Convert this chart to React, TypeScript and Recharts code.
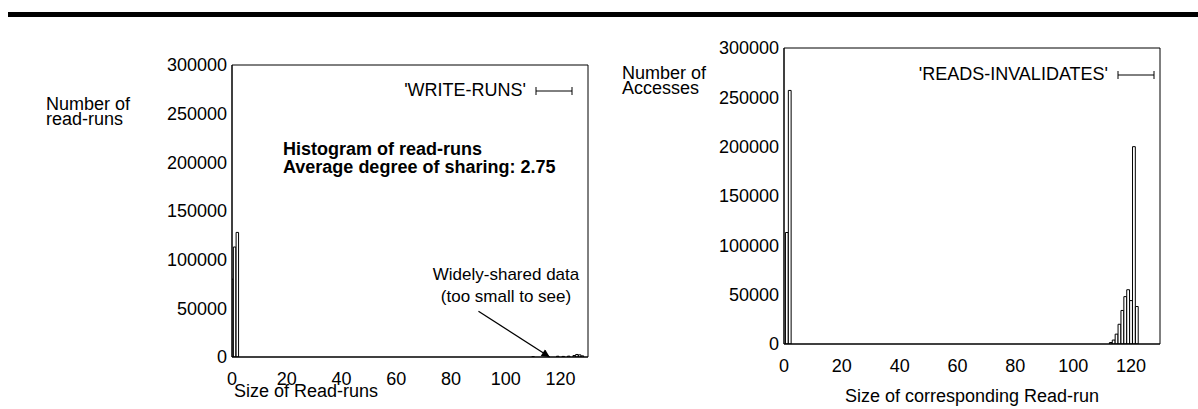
import React from "react";
import { BarChart, Bar, XAxis, YAxis, ReferenceLine } from "recharts";

// ---- data ----
const xTicks = [0, 20, 40, 60, 80, 100, 120];
const yTicks = [0, 50000, 100000, 150000, 200000, 250000, 300000];

const leftSizes = [0, 1, 2, 110, 119, 121, 123, 125, 126, 127, 128];
const leftCounts = [80000, 113000, 128000, 300, 800, 600, 900, 1500, 2600, 2200, 1200];

const rightSizes = [1, 2, 113, 114, 115, 116, 117, 118, 119, 120, 121, 122];
const rightCounts = [113000, 257000, 1500, 4000, 10000, 20000, 34000, 48000, 55000, 44000, 200000, 38000];

const leftData = leftSizes.map((s, i) => ({ size: s, count: leftCounts[i] }));
const rightData = rightSizes.map((s, i) => ({ size: s, count: rightCounts[i] }));

const FONT = "'Liberation Sans', Arial, Helvetica, sans-serif";
const tickStyle = { fontSize: 18, fill: "#000", fontFamily: FONT };

function Chart({ data, left, top, plotW, plotH, yWidth, extra }: { data: any[]; left: number; top: number; plotW: number; plotH: number; yWidth: number; extra?: React.ReactNode }) {
  const width = left + plotW + 10;
  const height = top + plotH + 50;
  return (
    <BarChart
      width={width}
      height={height}
      data={data}
      margin={{ top, left: left - yWidth, right: 10, bottom: 10 }}
      style={{ position: "absolute", left: 0, top: 0 }}
    >
      <XAxis xAxisId="b" dataKey="size" type="number" domain={[0, 130]} ticks={xTicks} interval={0}
        allowDataOverflow height={40} tickLine={false} tickSize={0} axisLine={{ stroke: "#000", strokeWidth: 1.5 }}
        tick={tickStyle} tickMargin={15} />
      <XAxis xAxisId="bm" dataKey="size" type="number" domain={[0, 130]} ticks={xTicks} interval={0}
        allowDataOverflow mirror tick={false} tickSize={5} tickLine={{ stroke: "#000" }} axisLine={false} />
      <XAxis xAxisId="t" dataKey="size" type="number" orientation="top" domain={[0, 130]} ticks={xTicks} interval={0}
        allowDataOverflow mirror tick={false} tickSize={5} tickLine={{ stroke: "#000" }} axisLine={{ stroke: "#000" }} />
      <YAxis yAxisId="l" type="number" domain={[0, 300000]} ticks={yTicks} interval={0} allowDataOverflow
        width={yWidth} tickLine={false} tickSize={0} axisLine={{ stroke: "#000", strokeWidth: 1.5 }} tick={tickStyle} tickMargin={5} />
      <YAxis yAxisId="lm" type="number" domain={[0, 300000]} ticks={yTicks} interval={0} allowDataOverflow
        mirror tick={false} tickSize={5} tickLine={{ stroke: "#000" }} axisLine={false} />
      <YAxis yAxisId="r" type="number" orientation="right" domain={[0, 300000]} ticks={yTicks} interval={0} allowDataOverflow
        mirror tick={false} tickSize={5} tickLine={{ stroke: "#000" }} axisLine={{ stroke: "#000" }} />
      <Bar xAxisId="b" yAxisId="l" dataKey="count" fill="#fff" stroke="#000" strokeWidth={1}
        barSize={2.8} isAnimationActive={false} />
      {extra}
    </BarChart>
  );
}

function LegendSample({ label }: { label: string }) {
  return (
    <div style={{ display: "flex", alignItems: "center", fontFamily: FONT, fontSize: 18, whiteSpace: "nowrap" }}>
      <span>{label}</span>
      <svg width={44} height={12} style={{ marginLeft: 6 }}>
        <line x1={4} y1={6} x2={40} y2={6} stroke="#000" strokeWidth={1} />
        <line x1={4} y1={2} x2={4} y2={10} stroke="#000" strokeWidth={1} />
        <line x1={40} y1={2} x2={40} y2={10} stroke="#000" strokeWidth={1} />
      </svg>
    </div>
  );
}

const arrowShape = (p: any) => (
  <line x1={p.x1} y1={p.y1} x2={p.x2} y2={p.y2} stroke="#000" strokeWidth={1.3} markerEnd="url(#arrowHead)" />
);

export default function App() {
  return (
    <div style={{ position: "absolute", left: 0, top: 0, width: 1198, height: 409, background: "#fff", overflow: "hidden", fontFamily: FONT }}>
      <svg width={0} height={0} style={{ position: "absolute" }}>
        <defs>
          <marker id="arrowHead" viewBox="0 0 10 10" refX="10" refY="5" markerWidth="11" markerHeight="8" orient="auto" markerUnits="userSpaceOnUse">
            <path d="M0,0 L10,5 L0,10 z" fill="#000" />
          </marker>
        </defs>
      </svg>
      <div style={{ position: "absolute", left: 8, top: 12, width: 1190, height: 5, background: "#000" }} />

      {/* left chart */}
      <div style={{ position: "absolute", left: 0, top: 0 }}>
        <Chart data={leftData} left={232} top={65} plotW={356} plotH={292} yWidth={90}
          extra={
            <ReferenceLine xAxisId="b" yAxisId="l" segment={[{ x: 90, y: 47000 }, { x: 116, y: 0 }]}
              ifOverflow="visible" shape={arrowShape} />
          } />
      </div>
      <div style={{ position: "absolute", left: 46, top: 97, fontSize: 18, lineHeight: "15px" }}>Number of<br />read-runs</div>
      <div style={{ position: "absolute", left: 234, top: 381, fontSize: 18 }}>Size of Read-runs</div>
      <div style={{ position: "absolute", left: 283, top: 140, fontSize: 18, fontWeight: "bold", lineHeight: "18px" }}>Histogram of read-runs<br />Average degree of sharing: 2.75</div>
      <div style={{ position: "absolute", left: 421, top: 264, fontSize: 17, lineHeight: "22px", textAlign: "center", width: 170 }}>Widely-shared data<br />(too small to see)</div>
      <div style={{ position: "absolute", right: 1198 - 576, top: 80 }}><LegendSample label="'WRITE-RUNS'" /></div>

      {/* right chart */}
      <div style={{ position: "absolute", left: 0, top: 0 }}>
        <Chart data={rightData} left={784} top={48} plotW={376} plotH={296} yWidth={90} />
      </div>
      <div style={{ position: "absolute", left: 622, top: 66, fontSize: 18, lineHeight: "15px" }}>Number of<br />Accesses</div>
      <div style={{ position: "absolute", left: 784, width: 376, textAlign: "center", top: 386, fontSize: 18 }}>Size of corresponding Read-run</div>
      <div style={{ position: "absolute", right: 1198 - 1158, top: 64 }}><LegendSample label="'READS-INVALIDATES'" /></div>
    </div>
  );
}
